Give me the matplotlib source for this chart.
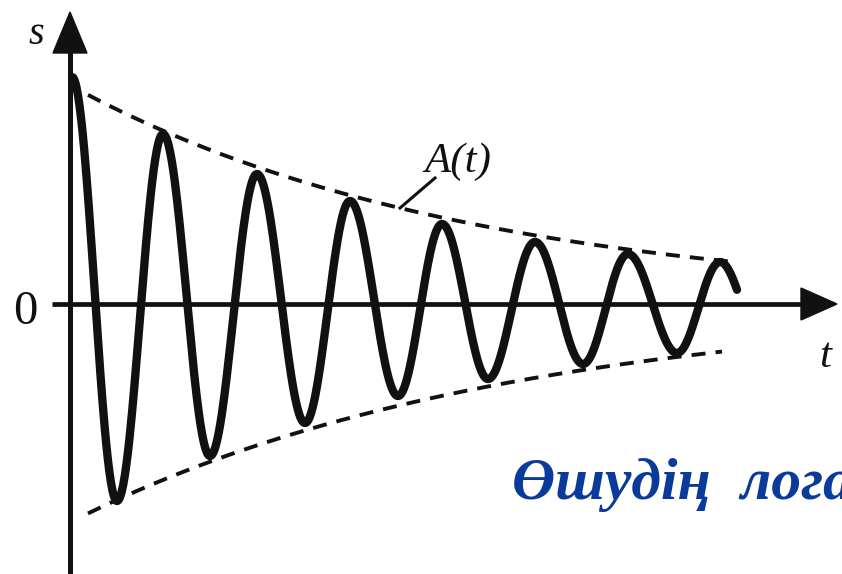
import numpy as np
import matplotlib
matplotlib.use("Agg")
import matplotlib.pyplot as plt
from matplotlib.patches import Polygon

# damped oscillation s(t): extrema (t, s) in drawing units
t_ext = [2, 47, 93, 140, 187, 235, 280, 328, 372, 418, 465, 513, 558, 607, 650]
s_ext = [226, -198, 169, -153, 129, -120, 102, -93, 79, -76, 61, -61, 49, -50, 41]
t_end = 667

# envelope A(t), upper and lower branches
t_env_up = [18, 87, 190, 323, 357, 550, 627]
a_env_up = [215, 176, 131, 96, 86, 55, 46]
t_env_lo = [20, 140, 235, 328, 363, 460, 550, 643]
a_env_lo = [220, 159, 124, 99, 93, 74, 62, 52]
env_up_span = (18, 660)
env_lo_span = (18, 652)

INK = "#111111"
BLUE = "#0a3a9a"
SERIF = ["Liberation Serif", "DejaVu Serif"]

fig = plt.figure(figsize=(8.42, 5.74), dpi=100)
ax = fig.add_axes([0, 0, 1, 1])
ax.set_xlim(-70, 772)
ax.set_ylim(-271, 303)
ax.axis("off")


def oscillation(te, se, tend, n=60):
    ts, ss = [], []
    for i in range(len(te) - 1):
        u = np.linspace(0, 1, n)
        c = (1 + np.cos(np.pi * u)) / 2
        ts.append(te[i] + u * (te[i + 1] - te[i]))
        ss.append(se[i] * c + se[i + 1] * (1 - c))
    # tail after the last extremum, same half-period
    h = te[-1] - te[-2]
    tt = np.linspace(te[-1], tend, n // 2)
    ts.append(tt)
    ss.append(se[-1] * np.cos(np.pi * (tt - te[-1]) / h))
    return np.concatenate(ts), np.concatenate(ss)


def envelope(tp, ap, span):
    k, b = np.polyfit(tp, np.log(ap), 1)
    tt = np.linspace(span[0], span[1], 200)
    return tt, np.exp(b + k * tt)


# axes with arrowheads
ax.plot([0, 0], [-280, 255], color=INK, lw=3.6, solid_capstyle="butt", zorder=2)
ax.plot([-18, 736], [-0.5, -0.5], color=INK, lw=3.4, solid_capstyle="butt", zorder=2)
ax.add_patch(Polygon([[0, 291], [-17, 250], [17, 250]], closed=True, fc=INK, ec=INK, lw=1, zorder=3))
ax.add_patch(Polygon([[767, -1], [731, -17], [731, 15]], closed=True, fc=INK, ec=INK, lw=1, zorder=3))

# envelope
tu, au = envelope(t_env_up, a_env_up, env_up_span)
tl, al = envelope(t_env_lo, a_env_lo, env_lo_span)
for tt, aa in ((tu, au), (tl, -al)):
    ax.plot(tt, aa, color=INK, lw=2.8, linestyle=(0, (3.6, 2.6)),
            dash_capstyle="butt", zorder=2)

# oscillation
ts, ss = oscillation(t_ext, s_ext, t_end)
ax.plot(ts, ss, color=INK, lw=6.0, solid_capstyle="round", solid_joinstyle="round", zorder=4)

# A(t) leader
ax.plot([365, 330], [125, 95], color=INK, lw=2.2, zorder=3)

# labels
ax.text(-34, 269, "s", fontsize=29, style="italic", family=SERIF, color=INK, ha="center", va="center")
ax.text(-45, -9, "0", fontsize=35, family=SERIF, color=INK, ha="center", va="center")
ax.text(755, -54, "t", fontsize=31, style="italic", family=SERIF, color=INK, ha="center", va="center")
ax.text(388, 141, "A(t)", fontsize=31, style="italic", family=SERIF, color=INK, ha="center", va="center")

ax.text(442, -196, "Өшудің  логарифмдік декременті", fontsize=43, style="italic",
        fontweight="bold", family=SERIF, color=BLUE, ha="left", va="baseline", clip_on=False)

fig.savefig("out.png", dpi=100)
